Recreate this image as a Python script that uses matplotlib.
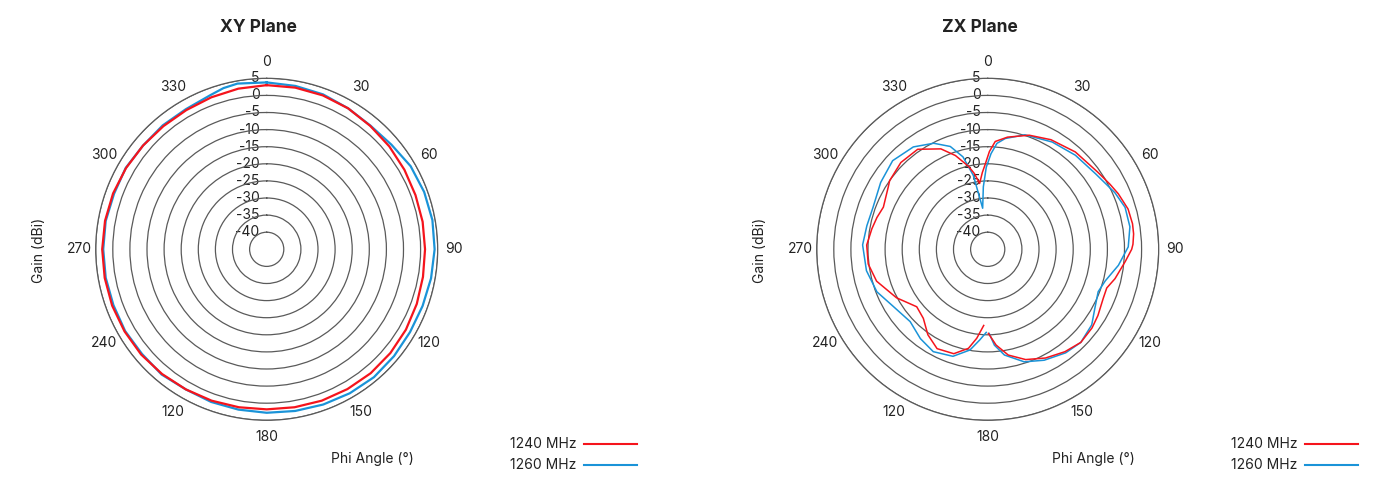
"""Antenna radiation patterns: XY and ZX plane cuts at 1240 / 1260 MHz."""

import matplotlib.pyplot as plt
import matplotlib.transforms as mtransforms
import numpy as np
from matplotlib.lines import Line2D

plt.rcParams["font.family"] = ["Inter", "DejaVu Sans"]

RED = "#f5141c"
BLUE = "#1a93d8"
GRID = "#5a5a5a"
TEXT = "#222222"

# ring values (dBi) and angle labels; the 210 deg label reads "120" in the source
RINGS = [-40, -35, -30, -25, -20, -15, -10, -5, 0, 5]
THETA_TICKS = [0, 30, 60, 90, 120, 150, 180, 210, 240, 270, 300, 330]
THETA_LABELS = ["0", "30", "60", "90", "120", "150", "180", "120", "240", "270", "300", "330"]

# XY plane
XY_1240_ANG = [0, 10, 20, 30, 40, 50, 60, 70, 80, 90, 100, 110, 120, 130, 140,
               150, 160, 170, 180, 190, 200, 210, 220, 230, 240, 250, 260, 270,
               280, 290, 300, 310, 320, 330, 340, 350, 360]
XY_1240_GAIN = [3.0, 3.0, 2.9, 2.6, 2.1, 1.8, 1.5, 1.3, 1.3, 1.3, 1.4, 1.7, 2.0,
                2.2, 2.3, 2.2, 2.1, 1.9, 1.8, 1.9, 2.1, 2.3, 2.6, 2.9, 3.0, 3.1,
                3.1, 3.1, 3.0, 2.8, 2.5, 2.2, 2.0, 2.0, 2.3, 2.7, 3.0]
XY_1260_ANG = [0, 10, 20, 30, 40, 50, 60, 70, 80, 90, 100, 110, 120, 130, 140,
               150, 160, 170, 180, 190, 200, 210, 220, 230, 240, 250, 260, 270,
               280, 290, 300, 310, 320, 330, 340, 345, 350, 360]
XY_1260_GAIN = [3.8, 3.5, 3.2, 2.6, 2.2, 2.6, 3.6, 4.0, 4.2, 4.1, 3.8, 3.5, 3.4,
                3.6, 3.8, 3.6, 3.3, 3.0, 2.8, 2.6, 2.5, 2.3, 2.8, 2.6, 2.8, 2.7,
                2.8, 2.8, 2.8, 2.5, 2.6, 2.2, 2.3, 2.3, 3.0, 3.8, 4.2, 3.8]

# ZX plane (angles -180..180, no sample right at 180)
ZX_1240_ANG = [-177, -173, -169, -162, -153, -145, -137, -129, -118, -106, -97,
               -88, -80, -74, -68, -58, -55, -45, -35, -25, -19, -13, -10, -7,
               -4, -2, 1, 4, 10, 20, 30, 42, 55, 62, 67, 74, 80, 84, 88, 90, 95,
               103, 108, 113, 121, 127, 135, 143, 152, 161, 169, 175, 179.5]
ZX_1240_GAIN = [-22.7, -18.8, -15.5, -12.9, -12.4, -14.5, -17.4, -18.3, -14.8,
                -11.2, -9.8, -9.6, -10.6, -11.3, -12.1, -10.7, -10.0, -9.1, -9.3,
                -12.6, -16.0, -20.1, -22.5, -25.6, -22.5, -20.5, -16.4, -13.4,
                -11.7, -9.5, -8.0, -6.7, -5.7, -4.5, -3.5, -2.3, -2.0, -2.1,
                -2.5, -2.9, -4.6, -6.8, -8.4, -8.3, -7.4, -6.8, -6.5, -7.5, -9.0,
                -10.9, -13.5, -16.9, -20.4]
ZX_1260_ANG = [-179, -175, -170, -162, -152, -143, -133, -121, -111, -100, -88,
               -79, -70, -58, -47, -36, -27, -20, -15, -11, -7, -4, -1, 2, 5, 9,
               18, 31, 43, 55, 66, 73, 81, 89, 97, 105, 111, 119, 126, 135, 143,
               153, 162, 171, 176, 179]
ZX_1260_GAIN = [-20.7, -18.4, -15.1, -12.1, -11.1, -12.3, -14.0, -12.7, -10.3,
                -9.0, -8.4, -9.0, -9.3, -8.1, -7.0, -8.0, -10.2, -13.0, -17.0,
                -23.0, -32.9, -26.7, -21.0, -17.0, -13.9, -12.2, -9.8, -8.4,
                -7.4, -6.5, -4.3, -3.0, -2.9, -3.9, -6.5, -9.4, -10.4, -9.2,
                -7.4, -6.5, -7.1, -8.6, -10.4, -13.7, -16.9, -20.4]

W, H = 1392, 482


def polar_panel(fig, cx, cy, title, series, lw):
    """Polar axes centred at pixel (cx, cy), radius 171 px."""
    rad = 171
    ax = fig.add_axes([(cx - rad) / W, (H - cy - rad) / H, 2 * rad / W, 2 * rad / H],
                      projection="polar")
    ax.set_theta_zero_location("N")
    ax.set_theta_direction(-1)
    ax.set_ylim(-45, 5)
    ax.set_facecolor("none")

    ax.set_yticks(RINGS)
    ax.set_yticklabels([])
    ax.yaxis.grid(True, color=GRID, linewidth=0.9)
    ax.xaxis.grid(False)
    ax.spines["polar"].set_color(GRID)
    ax.spines["polar"].set_linewidth(0.9)

    ax.set_xticks(np.deg2rad(THETA_TICKS))
    ax.set_xticklabels(THETA_LABELS, fontsize=10, color=TEXT)
    ax.tick_params(axis="x", pad=5, length=0)

    shift = mtransforms.offset_copy(ax.transData, fig=fig, x=-7, y=0, units="dots")
    for r in RINGS:
        ax.text(0, r, str(r), transform=shift, ha="right", va="center",
                fontsize=10, color=TEXT, zorder=1)

    for ang, gain, color in series:
        ax.plot(np.deg2rad(ang), gain, color=color, linewidth=lw, zorder=3)

    fig.text((cx - 8) / W, 1 - 27 / H, title, ha="center", va="center",
             fontsize=12.5, fontweight="bold", color=TEXT)
    fig.text((cx - 228) / W, 1 - 250 / H, "Gain (dBi)",
             rotation=90, ha="center", va="center", fontsize=10, color=TEXT)
    fig.text((cx + 106) / W, 1 - 459 / H, "Phi Angle (\u00b0)",
             ha="center", va="center", fontsize=10, color=TEXT)

    # hand-placed legend, text on the left of the swatch
    for label, color, y in (("1240 MHz", RED, 444), ("1260 MHz", BLUE, 465)):
        fig.text((cx + 310) / W, 1 - y / H, label, ha="right", va="center",
                 fontsize=10, color=TEXT)
        fig.add_artist(Line2D([(cx + 317) / W, (cx + 370) / W],
                              [1 - y / H, 1 - y / H], color=color, linewidth=1.5,
                              transform=fig.transFigure))
    return ax


def main():
    fig = plt.figure(figsize=(W / 100, H / 100), dpi=100)
    polar_panel(fig, 266.7, 249.3, "XY Plane",
                [(XY_1260_ANG, XY_1260_GAIN, BLUE), (XY_1240_ANG, XY_1240_GAIN, RED)],
                lw=1.6)
    polar_panel(fig, 987.7, 249.3, "ZX Plane",
                [(ZX_1260_ANG, ZX_1260_GAIN, BLUE), (ZX_1240_ANG, ZX_1240_GAIN, RED)],
                lw=1.1)
    fig.savefig("out.png", dpi=100)
    plt.close(fig)


if __name__ == "__main__":
    main()
